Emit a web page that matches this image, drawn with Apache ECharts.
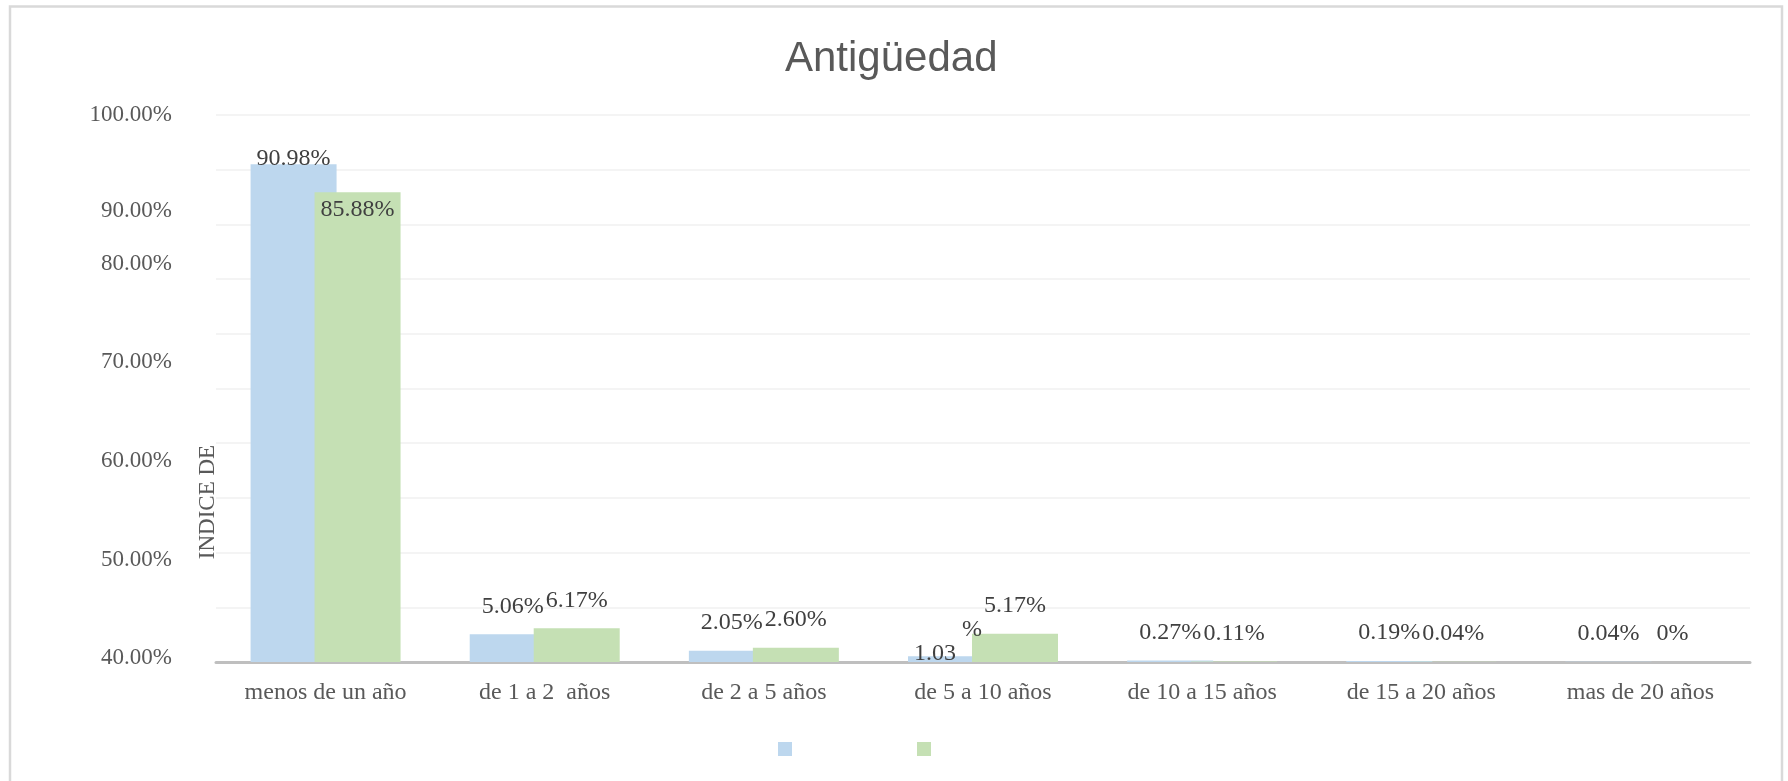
<!DOCTYPE html>
<html>
<head>
<meta charset="utf-8">
<title>Antigüedad</title>
<script src="https://cdn.jsdelivr.net/npm/echarts@6/dist/echarts.min.js"></script>
<style>
  html, body { margin: 0; padding: 0; background: #fff; }
  #chart { width: 1788px; height: 781px; }
</style>
</head>
<body>
<div id="chart"></div>
<script>
// Categories and the two series (percent values as printed on the labels).
const CATEGORIES = [
  "menos de un año",
  "de 1 a 2  años",
  "de 2 a 5 años",
  "de 5 a 10 años",
  "de 10 a 15 años",
  "de 15 a 20 años",
  "mas de 20 años",
];
const SERIES_A = [90.98, 5.06, 2.05, 1.03, 0.27, 0.19, 0.04];
const SERIES_B = [85.88, 6.17, 2.6, 5.17, 0.11, 0.04, 0];

// The y tick labels in the source sit at odd spots along a 0–100 scale.
const Y_TICK_LABELS = ["40.00%", "50.00%", "60.00%", "70.00%", "80.00%", "90.00%", "100.00%"];
const Y_TICK_AT = [0.7, 18.65, 36.75, 54.8, 72.76, 82.45, 100];

const BLUE = "#bdd7ee";
const GREEN = "#c5e0b4";
const SERIF = "'Liberation Serif', 'Times New Roman', serif";

const pct = (v) => (v === 0 ? "0%" : v.toFixed(2) + "%");

function dataLabel(dx) {
  return {
    show: true,
    position: "top",
    distance: 16,
    offset: [dx, 0],
    fontFamily: SERIF,
    fontSize: 24,
    color: "#404040",
    formatter: (p) => pct(p.value),
  };
}

const chart = echarts.init(document.getElementById("chart"), null, { renderer: "canvas" });

chart.setOption({
  animation: false,
  backgroundColor: "#fff",
  title: {
    text: "Antigüedad",
    left: 780,
    top: 33,
    textStyle: { fontFamily: "'Liberation Sans', Arial, sans-serif", fontSize: 42, fontWeight: "normal", color: "#595959" },
  },
  legend: {
    left: 773,
    top: 737,
    itemWidth: 14,
    itemHeight: 14,
    itemGap: 125,
    icon: "rect",
    formatter: () => "",
    data: ["Serie 1", "Serie 2"],
  },
  grid: { left: 216, right: 38, top: 115, bottom: 119 },
  xAxis: {
    type: "category",
    data: CATEGORIES,
    axisLine: { lineStyle: { color: "#bfbfbf", width: 3 } },
    axisTick: { show: false },
    axisLabel: { fontFamily: SERIF, fontSize: 24, color: "#595959", margin: 19 },
  },
  yAxis: {
    type: "value",
    min: 0,
    max: 100,
    interval: 10,
    axisLine: { show: false },
    axisTick: { show: false },
    splitLine: { lineStyle: { color: "#f0f0f0", width: 1.5 } },
    axisLabel: {
      customValues: Y_TICK_AT,
      margin: 44,
      fontFamily: SERIF,
      fontSize: 23,
      color: "#595959",
      formatter: (v) => {
        const i = Y_TICK_AT.findIndex((t) => Math.abs(t - v) < 1e-6);
        return i >= 0 ? Y_TICK_LABELS[i] : "";
      },
    },
  },
  series: [
    {
      name: "Serie 1",
      type: "bar",
      data: SERIES_A,
      barWidth: 86,
      barGap: "-25.6%",
      itemStyle: { color: BLUE },
      label: Object.assign(dataLabel(-9), {
        // the wrapped 1.03% label: "%" on top, the number below and to the left
        formatter: (p) =>
          p.dataIndex === 3 ? "{p|%}\n{n|" + p.value.toFixed(2) + "}" : pct(p.value),
        lineHeight: 24,
        rich: {
          p: { align: "right" },
          n: { align: "left", padding: [0, 26, 0, 0] },
        },
      }),
    },
    {
      name: "Serie 2",
      type: "bar",
      data: SERIES_B,
      barWidth: 86,
      itemStyle: { color: GREEN },
      label: dataLabel(-16),
    },
  ],
  // The first group's labels sit on / inside the bar tops; the clipped 1.03% label hugs its bar.
  labelLayout: (p) => {
    if (p.dataIndex === 0) return { dy: p.seriesIndex === 0 ? 22 : 45 };
    if (p.seriesIndex === 0 && p.dataIndex === 3) return { dy: 25, dx: -3 };
    return {};
  },
  graphic: [
    {
      type: "rect",
      shape: { x: 10, y: 6.5, width: 1772, height: 820 },
      style: { fill: null, stroke: "#d9d9d9", lineWidth: 2.5 },
      silent: true,
    },
    {
      type: "text",
      x: 208,
      y: 502,
      rotation: Math.PI / 2,
      style: {
        text: "INDICE DE",
        fontFamily: SERIF,
        fontSize: 23,
        fill: "#595959",
        align: "center",
        verticalAlign: "middle",
      },
    },
  ],
});

window.addEventListener("resize", () => chart.resize());
</script>
</body>
</html>
